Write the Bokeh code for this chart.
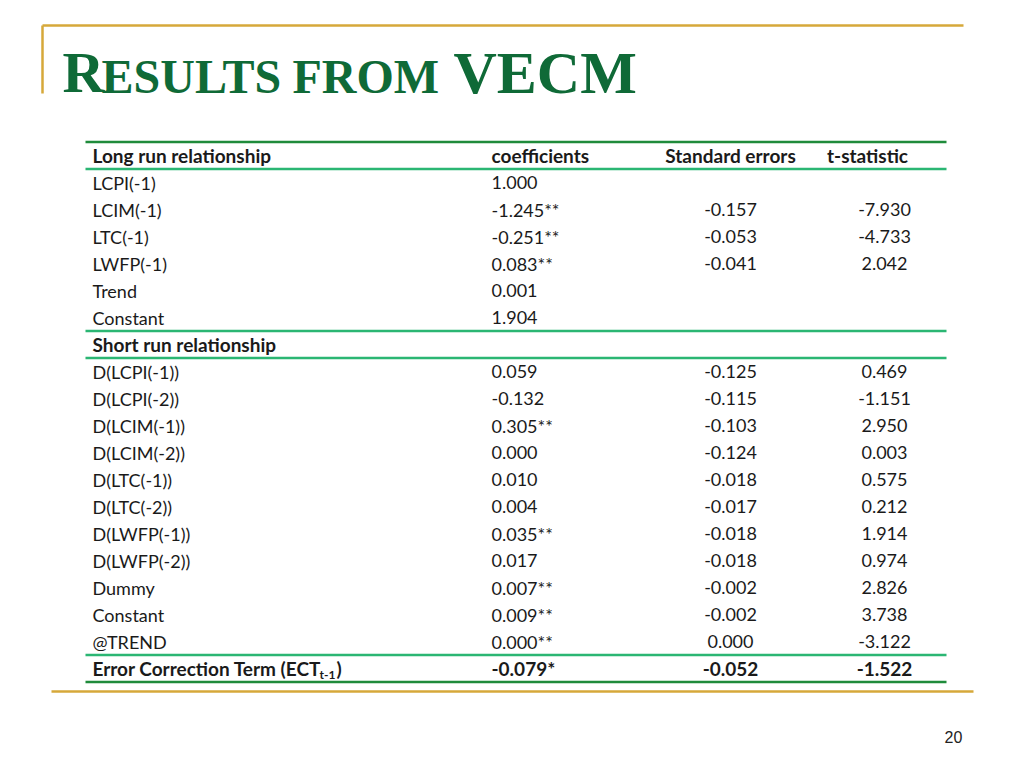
from bokeh.plotting import figure
from bokeh.models import Range1d
from bokeh.core.properties import value
from bokeh.embed import file_html
from bokeh.resources import INLINE

# ---------------- data ----------------
header = ["Long run relationship", "coefficients", "Standard errors", "t-statistic"]

row_labels = ["LCPI(-1)", "LCIM(-1)", "LTC(-1)", "LWFP(-1)", "Trend", "Constant",
              "Short run relationship",
              "D(LCPI(-1))", "D(LCPI(-2))", "D(LCIM(-1))", "D(LCIM(-2))",
              "D(LTC(-1))", "D(LTC(-2))", "D(LWFP(-1))", "D(LWFP(-2))",
              "Dummy", "Constant", "@TREND"]
coefficients = ["1.000", "-1.245**", "-0.251**", "0.083**", "0.001", "1.904",
                "",
                "0.059", "-0.132", "0.305**", "0.000", "0.010", "0.004",
                "0.035**", "0.017", "0.007**", "0.009**", "0.000**"]
std_errors = ["", "-0.157", "-0.053", "-0.041", "", "",
              "",
              "-0.125", "-0.115", "-0.103", "-0.124", "-0.018", "-0.017",
              "-0.018", "-0.018", "-0.002", "-0.002", "0.000"]
t_stats = ["", "-7.930", "-4.733", "2.042", "", "",
           "",
           "0.469", "-1.151", "2.950", "0.003", "0.575", "0.212",
           "1.914", "0.974", "2.826", "3.738", "-3.122"]

ect_label_main = "Error Correction Term (ECT"
ect_label_sub = "t-1"
ect_values = ["-0.079*", "-0.052", "-1.522"]

title_parts = ["R", "ESULTS", "FROM", "VECM"]
page_number = "20"

# ---------------- layout constants ----------------
W, H = 1016, 760
GREEN_T = "#0f6a37"
GOLD = "#d6a83a"
DARK_G = "#1f8b3b"
MINT = "#2bb673"
TXT = "#1a1a1a"
FONT = "Lato"
FS = "18px"
FS_B = "19px"

ROW0 = 155.0
RH = 27.0
TL, TR = 85, 946
X_LABEL, X_COEF, X_SE, X_T = 92, 491, 730, 884

p = figure(width=W, height=H, output_backend="svg", toolbar_location=None,
           x_range=Range1d(0, W), y_range=Range1d(H, 0),
           min_border=0, outline_line_color=None)
p.axis.visible = False
p.grid.visible = False
p.background_fill_color = "white"
p.border_fill_color = "white"

# gold decorative lines
p.segment(x0=[42, 42, 51], y0=[25, 25, 691], x1=[963, 42, 973], y1=[25, 93, 691],
          line_color=GOLD, line_width=2.5)

# title with small caps
sizes = ["58px", "48px", "48px", "60px"]
ys_t = [72, 76, 76, 72]
xs = [62, 101, 292, 453]
for t, s, x, yy in zip(title_parts, sizes, xs, ys_t):
    p.text(x=[x], y=[yy], text=[t], text_font=value("Liberation Serif"),
           text_font_style="bold", text_font_size=s, text_color=GREEN_T,
           text_baseline="middle", text_align="left")

# table rules
n_rows = len(row_labels) + 2  # header + rows + ect
def boundary(i):
    return ROW0 + RH * i + RH / 2

ys_dark = [ROW0 - RH / 2, boundary(n_rows - 1)]
ys_mint = [boundary(0), boundary(6), boundary(7), boundary(n_rows - 2)]
p.segment(x0=TL, x1=TR, y0=ys_dark, y1=ys_dark, line_color=DARK_G, line_width=2.5)
p.segment(x0=TL, x1=TR, y0=ys_mint, y1=ys_mint, line_color=MINT, line_width=2.5)

def put(xs_, ys_, texts, align, bold=False, size=None):
    if size is None:
        size = FS_B if bold else FS
    p.text(x=xs_, y=ys_, text=texts, text_font=value(FONT),
           text_font_style="bold" if bold else "normal",
           text_font_size=size, text_color=TXT,
           text_baseline="middle", text_align=align)

# header
put([X_LABEL, X_COEF], [ROW0, ROW0], header[:2], "left", bold=True)
put([X_SE, 867], [ROW0, ROW0], header[2:], "center", bold=True)

# body rows
body_y = [ROW0 + RH * (i + 1) for i in range(len(row_labels))]
normal_idx = [i for i, l in enumerate(row_labels) if l != "Short run relationship"]
bold_idx = [i for i, l in enumerate(row_labels) if l == "Short run relationship"]
put([X_LABEL] * len(normal_idx), [body_y[i] for i in normal_idx],
    [row_labels[i] for i in normal_idx], "left")
put([X_LABEL] * len(bold_idx), [body_y[i] for i in bold_idx],
    [row_labels[i] for i in bold_idx], "left", bold=True)
put([X_COEF] * len(body_y), body_y, coefficients, "left")
put([X_SE] * len(body_y), body_y, std_errors, "center")
put([X_T] * len(body_y), body_y, t_stats, "center")

# ECT row
y_ect = ROW0 + RH * (n_rows - 1)
put([X_LABEL], [y_ect], [ect_label_main], "left", bold=True)
put([319], [y_ect + 6], [ect_label_sub], "left", bold=True, size="12px")
put([336], [y_ect], [")"], "left", bold=True)
put([X_COEF], [y_ect], [ect_values[0]], "left", bold=True)
put([X_SE], [y_ect], [ect_values[1]], "center", bold=True)
put([X_T], [y_ect], [ect_values[2]], "center", bold=True)

# page number
p.text(x=[953], y=[736], text=[page_number], text_font=value("Liberation Sans"),
       text_font_size="16px", text_color="#222222", text_align="center",
       text_baseline="middle")

open("out.html", "w").write(file_html(p, INLINE))
